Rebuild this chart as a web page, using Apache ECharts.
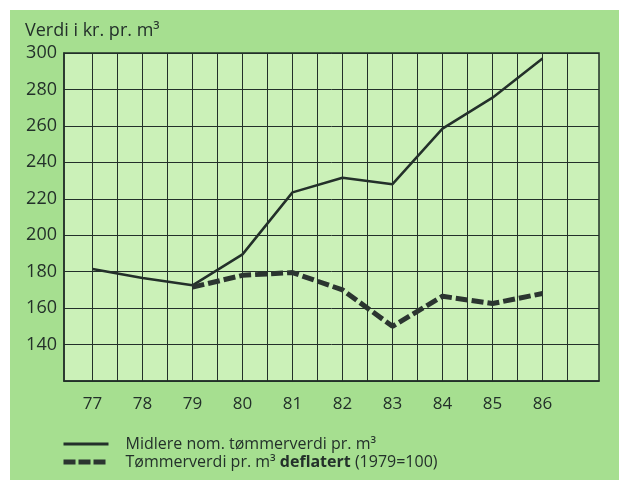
<!DOCTYPE html>
<html>
<head>
<meta charset="utf-8">
<script src="https://cdn.jsdelivr.net/npm/echarts@6/dist/echarts.min.js"></script>
<style>
html,body{margin:0;padding:0;background:#ffffff;}
#wrap{position:absolute;left:10px;top:10px;width:609px;height:470px;background:#a6df90;}
#chart{position:absolute;left:0;top:0;width:621px;height:480px;}
</style>
</head>
<body>
<div id="wrap"></div>
<div id="chart"></div>
<script>
// ---- data ----
const years = [77, 78, 79, 80, 81, 82, 83, 84, 85, 86];
const nominal = [181.5, 176.5, 172.5, 189.5, 223.5, 231.5, 228, 258.5, 275.5, 297];
const deflYears = [79, 80, 81, 82, 83, 84, 85, 86];
const deflated = [171.5, 178, 179.5, 170, 150, 166.5, 162.5, 168];
const yTicks = [140, 160, 180, 200, 220, 240, 260, 280, 300];
const xGrid = [77, 77.5, 78, 78.5, 79, 79.5, 80, 80.5, 81, 81.5, 82, 82.5, 83, 83.5, 84, 84.5, 85, 85.5, 86, 86.5];
const seriesNames = ['Midlere nom. tømmerverdi pr. m³', 'Tømmerverdi pr. m³ deflatert (1979=100)'];

const ink = '#23302a';
const font = '"Open Sans", sans-serif';

const chart = echarts.init(document.getElementById('chart'), null, {renderer: 'canvas'});
chart.setOption({
  backgroundColor: 'transparent',
  animation: false,
  title: {
    text: 'Verdi i kr. pr. m³',
    left: 25, top: 22, padding: 0,
    textStyle: {fontFamily: font, fontSize: 18, fontWeight: 'normal', color: ink}
  },
  grid: {
    left: 64, right: 22, top: 53, bottom: 99,
    show: true, backgroundColor: '#cbf1b8', borderColor: ink, borderWidth: 1.5
  },
  xAxis: {
    type: 'value', min: 76.43, max: 87.13,
    axisLine: {show: true, lineStyle: {color: ink, width: 1.5}},
    axisTick: {show: false, customValues: xGrid},
    splitLine: {show: true, lineStyle: {color: ink, width: 1}},
    axisLabel: {customValues: years, margin: 15, fontFamily: font, fontSize: 17, color: ink,
      formatter: v => String(v)}
  },
  yAxis: {
    type: 'value', min: 120, max: 300, interval: 20,
    axisLine: {show: true, lineStyle: {color: ink, width: 1.5}},
    axisTick: {show: false},
    splitLine: {show: true, lineStyle: {color: ink, width: 1}},
    axisLabel: {showMinLabel: false, margin: 7, fontFamily: font, fontSize: 18, color: ink}
  },
  legend: {
    orient: 'vertical', left: 61, top: 436, padding: 0, itemGap: 2,
    itemWidth: 45, itemHeight: 14,
    data: [
      {name: seriesNames[0], lineStyle: {width: 3, color: ink}},
      {name: seriesNames[1], lineStyle: {width: 5, color: '#2b3530', type: [12, 3]}}
    ],
    itemStyle: {color: 'transparent', borderWidth: 0, opacity: 0},
    formatter: function (name) {
      if (name === seriesNames[1]) return 'Tømmerverdi pr. m³ {b|deflatert} (1979=100)';
      return name;
    },
    textStyle: {fontFamily: font, fontSize: 16, color: ink, padding: [0, 0, 0, 12],
      rich: {b: {fontFamily: font, fontSize: 16, fontWeight: 'bold', color: ink}}}
  },
  series: [
    {
      name: seriesNames[0], type: 'line', symbol: 'none',
      data: years.map((y, i) => [y, nominal[i]]),
      lineStyle: {color: ink, width: 2.5}, itemStyle: {color: ink}, z: 3
    },
    {
      name: seriesNames[1], type: 'line', symbol: 'none',
      data: deflYears.map((y, i) => [y, deflated[i]]),
      lineStyle: {color: '#2b3530', width: 5, type: [12, 4]}, itemStyle: {color: '#2b3530'}, z: 4
    }
  ]
});
</script>
</body>
</html>
